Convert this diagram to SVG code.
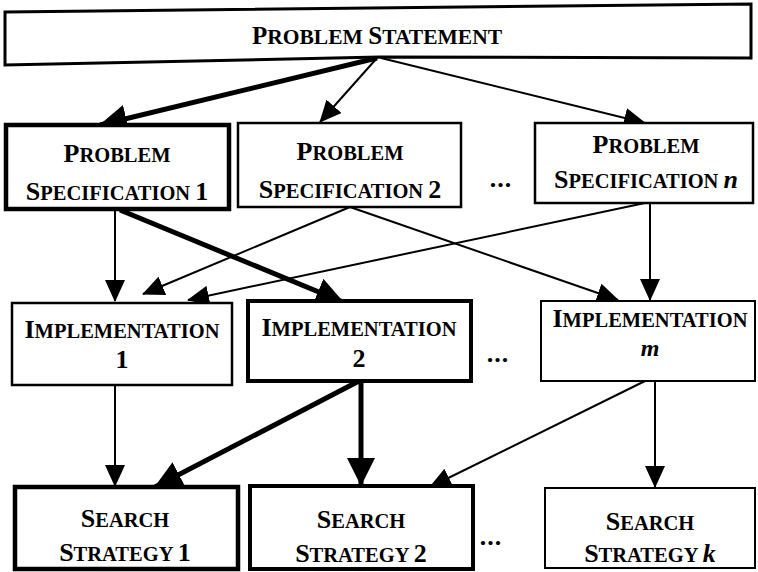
<svg xmlns="http://www.w3.org/2000/svg" width="758" height="572" viewBox="0 0 758 572">
<style>
.box{fill:#fff;stroke:#000;stroke-width:2.5}
.thick{stroke-width:4.5}
.t{font-family:"Liberation Serif","Times New Roman",serif;font-weight:bold;text-anchor:middle;fill:#000}
.L{font-size:26px}
.s{font-size:20.5px}
.v{font-size:26px;font-style:italic}
.dots{font-family:"Liberation Serif",serif;font-weight:bold;font-size:26px;text-anchor:middle;letter-spacing:1px}
.c{fill:none;stroke:#000;stroke-width:2}
.ck{fill:none;stroke:#000;stroke-width:5}
</style>
<defs>
<marker id="ah" viewBox="0 0 22 20" refX="21" refY="10" markerWidth="22" markerHeight="20" orient="auto" markerUnits="userSpaceOnUse">
<path d="M0,0 L22,10 L0,20 Z" fill="#000"/>
</marker>
<marker id="ahk" viewBox="0 0 28 28" refX="27" refY="14" markerWidth="28" markerHeight="28" orient="auto" markerUnits="userSpaceOnUse">
<path d="M0,0 L28,14 L0,28 Z" fill="#000"/>
</marker>
</defs>

<g id="connectors">
<line class="ck" x1="377" y1="58" x2="100" y2="125" marker-end="url(#ahk)"/>
<line class="c" x1="377" y1="58" x2="320" y2="122" marker-end="url(#ah)"/>
<line class="c" x1="381" y1="58" x2="645" y2="123" marker-end="url(#ah)"/>
<line class="c" x1="115" y1="210" x2="115" y2="301" marker-end="url(#ah)"/>
<line class="ck" x1="120" y1="210" x2="343" y2="302" marker-end="url(#ahk)"/>
<line class="c" x1="350" y1="207" x2="143" y2="294" marker-end="url(#ah)"/>
<line class="c" x1="645" y1="203" x2="188" y2="300" marker-end="url(#ah)"/>
<line class="c" x1="350" y1="207" x2="618" y2="300" marker-end="url(#ah)"/>
<line class="c" x1="650" y1="203" x2="650" y2="300" marker-end="url(#ah)"/>
<line class="c" x1="115" y1="385" x2="115" y2="486" marker-end="url(#ah)"/>
<line class="ck" x1="359" y1="381" x2="155" y2="487" marker-end="url(#ahk)"/>
<line class="ck" x1="361" y1="381" x2="361" y2="485" marker-end="url(#ahk)"/>
<line class="c" x1="645" y1="381" x2="430" y2="487" marker-end="url(#ah)"/>
<line class="c" x1="655" y1="381" x2="655" y2="487" marker-end="url(#ah)"/>
</g>

<g id="problem-statement">
<path class="box" d="M5,12 L751,4 L751,58 L380,57 L5,65 Z" style="stroke-width:3"/>
<text class="t" x="377" y="44"><tspan style="font-size:25px">P</tspan><tspan style="font-size:21.5px">ROBLEM </tspan><tspan style="font-size:25px">S</tspan><tspan style="font-size:21.5px">TATEMENT</tspan></text>
</g>

<g id="spec-1">
<rect class="box thick" x="6" y="125" width="223" height="84"/>
<text class="t" x="117" y="162"><tspan class="L">P</tspan><tspan class="s">ROBLEM</tspan></text>
<text class="t" x="117" y="200"><tspan class="L">S</tspan><tspan class="s">PECIFICATION </tspan><tspan class="L">1</tspan></text>
</g>
<g id="spec-2">
<rect class="box" x="238" y="123" width="223" height="84"/>
<text class="t" x="350" y="160"><tspan class="L">P</tspan><tspan class="s">ROBLEM</tspan></text>
<text class="t" x="350" y="198"><tspan class="L">S</tspan><tspan class="s">PECIFICATION </tspan><tspan class="L">2</tspan></text>
</g>
<text class="dots" x="501" y="187">...</text>
<g id="spec-n">
<rect class="box" x="535" y="123" width="218" height="80"/>
<text class="t" x="646" y="153"><tspan class="L">P</tspan><tspan class="s">ROBLEM</tspan></text>
<text class="t" x="646" y="188"><tspan class="L">S</tspan><tspan class="s">PECIFICATION </tspan><tspan class="v">n</tspan></text>
</g>

<g id="impl-1">
<rect class="box" x="12" y="303" width="220" height="82"/>
<text class="t" x="122" y="338"><tspan class="L">I</tspan><tspan class="s">MPLEMENTATION</tspan></text>
<text class="t" x="122" y="368"><tspan class="L">1</tspan></text>
</g>
<g id="impl-2">
<rect class="box" x="248" y="301" width="223" height="80" style="stroke-width:4"/>
<text class="t" x="359" y="336"><tspan class="L">I</tspan><tspan class="s">MPLEMENTATION</tspan></text>
<text class="t" x="359" y="367"><tspan class="L">2</tspan></text>
</g>
<text class="dots" x="498" y="362">...</text>
<g id="impl-m">
<rect class="box" x="541" y="301" width="214" height="80" style="stroke-width:2"/>
<text class="t" x="650" y="327"><tspan class="L">I</tspan><tspan class="s">MPLEMENTATION</tspan></text>
<text class="t" x="650" y="356"><tspan class="v" style="font-size:24px">m</tspan></text>
</g>

<g id="search-1">
<rect class="box thick" x="15" y="487" width="223" height="82"/>
<text class="t" x="125" y="527"><tspan class="L">S</tspan><tspan class="s">EARCH</tspan></text>
<text class="t" x="125" y="561"><tspan class="L">S</tspan><tspan class="s">TRATEGY </tspan><tspan class="L">1</tspan></text>
</g>
<g id="search-2">
<rect class="box" x="250" y="486" width="223" height="83" style="stroke-width:4"/>
<text class="t" x="361" y="528"><tspan class="L">S</tspan><tspan class="s">EARCH</tspan></text>
<text class="t" x="361" y="562"><tspan class="L">S</tspan><tspan class="s">TRATEGY </tspan><tspan class="L">2</tspan></text>
</g>
<text class="dots" x="491" y="545">...</text>
<g id="search-k">
<rect class="box" x="545" y="488" width="210" height="80" style="stroke-width:2"/>
<text class="t" x="650" y="530"><tspan class="L">S</tspan><tspan class="s">EARCH</tspan></text>
<text class="t" x="650" y="562"><tspan class="L">S</tspan><tspan class="s">TRATEGY </tspan><tspan class="v">k</tspan></text>
</g>
</svg>
